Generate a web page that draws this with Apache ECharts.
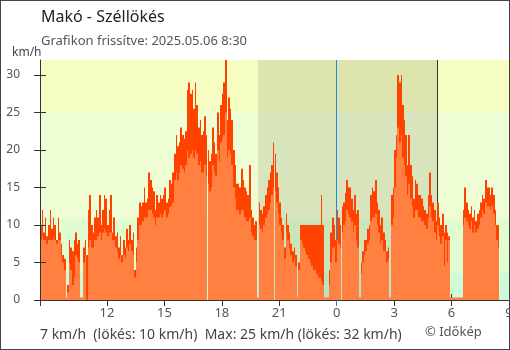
<!DOCTYPE html>
<html>
<head>
<meta charset="utf-8">
<script src="https://cdn.jsdelivr.net/npm/echarts@6/dist/echarts.min.js"></script>
<style>
  html, body { margin: 0; padding: 0; background: #fff; }
  #wrap { position: relative; width: 510px; height: 350px; }
  #chart { width: 510px; height: 350px; }
  #frame { position: absolute; left: 0; top: 0; width: 510px; height: 350px;
           box-sizing: border-box; border: 1px solid #444; pointer-events: none; }
</style>
</head>
<body>
<div id="wrap"><div id="chart"></div><div id="frame"></div></div>
<script>
// 5-minute wind readings, first one at 08:30 (hours counted from midnight of day 1)
const START_HOUR = 8.5;
const STEP_HOURS = 5 / 60;

// gusts, km/h (one row per hour)
const gust = [
  10, 12, 9, 11, 8.5, 10, 12, 9.5, 11, 10, 8, 11,
  9, 7.5, 6, 5.5, 0.3, 2, 8, 7, 6.5, 8, 9, 7.5,
  8, 0.3, 0.3, 7, 8, 6, 12, 14, 10, 9, 11, 12,
  11, 14, 10, 12, 14, 13.5, 10, 12, 14, 9, 11, 8.5,
  9, 7, 8.5, 6, 8, 7, 9.5, 8, 10, 8, 9, 4,
  7, 11, 13, 12.5, 13, 15, 13, 13.5, 17, 16, 15, 14.5,
  12, 14, 13, 14, 13.5, 14, 15, 13, 13.5, 16, 15.5, 17,
  19.5, 22, 20.5, 21, 23, 22, 21.5, 22.5, 28, 29, 27.5, 28,
  25.5, 29, 26, 23, 24, 22, 22.5, 24.5, 22, 20, 18.5, 19.5,
  23, 21, 19.5, 25, 22, 26, 27.5, 29, 32, 24, 27, 25.5,
  24, 20, 18, 15.5, 15.5, 15, 17.5, 16, 15, 14.5, 14, 18,
  12, 11, 10, 10.5, 0.3, 13, 12, 11.5, 12.5, 14, 15, 16,
  17, 18, 21, 19.5, 17, 15, 13, 11, 10, 7, 11.5, 10,
  9, 7.5, 6.5, 7, 6, 0.3, 5, 10, 10, 10, 10, 10,
  10, 10, 10, 10, 10, 10, 10, 10, 14, 10, 0.3, 0.3,
  0.3, 4, 9, 11, 10, 8, 12, 11, 10, 12.5, 13, 14.3,
  16, 15, 15, 13.5, 12, 14, 11.5, 12, 0.3, 5, 6.5, 8,
  8, 9.5, 10, 14, 15, 14.5, 16, 13, 12, 10, 11, 9,
  8, 6.5, 7, 0.3, 14, 15, 20, 22, 30, 29, 30, 26,
  24, 22, 18, 22, 18, 16.5, 13.5, 16, 15.5, 14, 14, 13.5,
  12.5, 12, 11.5, 14, 17, 14, 13, 12, 10.5, 13, 11, 10,
  11.5, 9, 10, 9, 8.5, 0.3, 0.3, 0.3, 0.3, 0.3, 0.3, 0.3,
  0.3, 12, 15, 13, 12, 11.5, 12.5, 11, 12, 10.5, 11.5, 12,
  13, 14, 13.5, 16, 15, 15, 14, 15, 14, 12, 10, 10
];

// mean wind speed, km/h
const speed = [
  8, 8.5, 8, 8, 7.5, 8, 8, 8, 8.5, 8, 7.5, 8,
  8, 6, 5, 4, 0.3, 1, 5, 4, 2, 3, 6, 5.5,
  5, 0.3, 0.3, 5, 6, 0, 7, 8, 7, 7, 8, 8,
  8.5, 9, 8, 9, 9.5, 9, 8.5, 9, 9, 8, 8, 7,
  6.5, 5.5, 6, 5, 6, 5.5, 7, 6.5, 7.5, 6.5, 6, 3,
  5, 8, 10, 10, 10.5, 11, 11, 11, 12, 12, 11.5, 11,
  10, 11, 11, 11.5, 11, 11.5, 12, 11, 11.5, 12.5, 12.5, 13,
  16, 17, 16, 17, 18, 17.5, 17, 18, 20, 19, 19.5, 20,
  19, 20, 19.5, 18, 18.5, 17, 17, 18, 16.5, 15.5, 14.5, 15,
  18, 17, 16.5, 20, 18.5, 21, 21.5, 22, 25, 19, 20, 19.5,
  18, 15, 13.5, 12, 12, 11.5, 12, 12, 11, 10.5, 10.5, 11,
  9, 8.5, 8, 8, 0.3, 10, 9.5, 9, 10, 11, 11.5, 12,
  13, 14, 15, 14.5, 13, 11.5, 10, 9, 8, 5.5, 9, 8,
  7, 6, 5, 5.5, 4.5, 0.3, 4, 8, 7.5, 7, 6.5, 6,
  5.5, 5, 4.5, 4, 4, 3.5, 3, 3, 2.5, 2, 0.3, 0.3,
  0.3, 2, 5, 7, 7, 5, 8, 7.5, 7, 9, 10, 10.5,
  12, 11.5, 11, 10.5, 9, 10, 8, 7, 0.3, 3.5, 5, 6,
  6.5, 7.5, 8, 10.5, 11, 11, 11.5, 10, 9, 7.5, 8, 6.5,
  6.5, 5, 5.5, 0.3, 10, 11, 15, 19, 23, 21, 22, 19,
  18, 16.5, 14, 15.5, 13.5, 12.5, 11, 12, 12, 11, 11, 10.5,
  10.5, 10, 9.5, 11, 12.5, 11, 10.5, 9, 8, 10, 8.5, 7.5,
  8.5, 4.5, 8, 5, 8, 0.3, 0.3, 0.3, 0.3, 0.3, 0.3, 0.3,
  0.3, 10, 11, 10.5, 10, 9.5, 10.5, 9, 10, 9, 9.5, 10,
  11, 12, 11.5, 13, 12.5, 12.5, 12, 12.5, 11.5, 10, 8, 7
];

// axis ranges and ticks
const X_MIN = 8.5, X_MAX = 33;
const hourTicks = [12, 15, 18, 21, 24, 27, 30, 33];
const Y_MAX = 32;
const yTicks = [0, 5, 10, 15, 20, 25, 30];

// wind-strength bands (km/h)
const bandEdges = [0, 3.6, 10.8, 25.2, 32];

// sun and day markers
const SUNSET = 19 + 53 / 60;
const SUNRISE = 24 + 5 + 15 / 60;
const MIDNIGHT = 24;

// texts
const TITLE = 'Makó - Széllökés';
const SUBTITLE = 'Grafikon frissítve: 2025.05.06 8:30';
const UNIT = 'km/h';
const SUMMARY = '7 km/h  (lökés: 10 km/h)  Max: 25 km/h (lökés: 32 km/h)';
const CREDIT = '© Időkép';

const GUST_COLOR = '#ff4200';
const SPEED_COLOR = '#ff8040';
const BAND_COLORS = ['#cdfbd8', '#e1fcd0', '#effdd4', '#f5fdc2'];
const FONT = '"Noto Sans", "Open Sans", sans-serif';

const barData = gust.map((g, i) => [START_HOUR + i * STEP_HOURS, speed[i], g]);

function renderBars(params, api) {
  const t = api.value(0);
  const cs = params.coordSys;
  const base = api.coord([t, 0]);
  const xa = Math.round(base[0]);
  const xb = Math.round(api.coord([t + STEP_HOURS, 0])[0]);
  const left = Math.max(xa, cs.x);
  const right = Math.min(xb, cs.x + cs.width);
  if (right <= left) return null;
  const gy = Math.max(api.coord([t, api.value(2)])[1], cs.y);
  const sy = Math.max(api.coord([t, api.value(1)])[1], cs.y);
  return {
    type: 'group',
    children: [
      { type: 'rect', shape: { x: left, y: gy, width: right - left, height: base[1] - gy },
        style: { fill: GUST_COLOR } },
      { type: 'rect', shape: { x: left, y: sy, width: right - left, height: base[1] - sy },
        style: { fill: SPEED_COLOR } }
    ]
  };
}

const bandAreas = bandEdges.slice(0, -1).map((lo, i) => [
  { yAxis: lo, itemStyle: { color: BAND_COLORS[i] } },
  { yAxis: bandEdges[i + 1] }
]);
bandAreas.push([
  { xAxis: SUNSET, itemStyle: { color: 'rgba(40,40,0,0.11)' } },
  { xAxis: SUNRISE }
]);

const axisGray = '#333';
const chart = echarts.init(document.getElementById('chart'), null, { renderer: 'canvas' });
chart.setOption({
  animation: false,
  backgroundColor: '#fff',
  textStyle: { fontFamily: FONT },
  grid: { left: 40, right: 1, top: 60, bottom: 50, containLabel: false, outerBoundsMode: 'none' },
  xAxis: [
    {
      type: 'value', min: X_MIN, max: X_MAX, z: 4,
      axisLine: { show: true, onZero: false, lineStyle: { color: axisGray, width: 1 } },
      axisTick: { show: true, inside: false, length: 6, customValues: [X_MIN, 12, 15, 18, 21, 27, 30, 33],
                  lineStyle: { color: axisGray } },
      axisLabel: { show: true, customValues: hourTicks, margin: 7, color: '#555', fontSize: 13,
                   fontFamily: FONT, formatter: v => String(v % 24) },
      splitLine: { show: false }
    },
    {
      type: 'value', min: X_MIN, max: X_MAX, z: 4, position: 'bottom',
      axisLine: { show: false },
      axisTick: { show: true, inside: false, length: 6, customValues: [MIDNIGHT],
                  lineStyle: { color: '#1e88e5' } },
      axisLabel: { show: false },
      splitLine: { show: false }
    },
    {
      type: 'value', min: X_MIN, max: X_MAX, z: 2, position: 'bottom',
      axisLine: { show: false },
      axisTick: { show: true, inside: true, length: 6, customValues: [12, 15, 18, 21, 27, 30],
                  lineStyle: { color: axisGray } },
      axisLabel: { show: false },
      splitLine: { show: false }
    }
  ],
  yAxis: [
    {
      type: 'value', min: 0, max: Y_MAX, z: 4,
      axisLine: { show: true, lineStyle: { color: axisGray, width: 1 } },
      axisTick: { show: true, inside: false, length: 6, customValues: yTicks,
                  lineStyle: { color: axisGray } },
      axisLabel: { show: true, customValues: yTicks, margin: 20, color: '#555', fontSize: 12,
                   fontFamily: FONT },
      splitLine: { show: false }
    },
    {
      type: 'value', min: 0, max: Y_MAX, z: 5, position: 'left',
      axisLine: { show: false },
      axisTick: { show: true, inside: true, length: 6, customValues: yTicks,
                  lineStyle: { color: axisGray } },
      axisLabel: { show: false },
      splitLine: { show: false }
    }
  ],
  series: [
    {
      type: 'line', data: [], z: 1, silent: true,
      markArea: { silent: true, z: 1, data: bandAreas },
      markLine: {
        silent: true, z: 1, symbol: ['none', 'none'], label: { show: false },
        emphasis: { disabled: true },
        data: [
          { xAxis: MIDNIGHT, lineStyle: { color: '#1e88e5', width: 1, type: 'solid', opacity: 1 } },
          { xAxis: SUNRISE, lineStyle: { color: '#333', width: 1, type: 'solid', opacity: 1 } }
        ]
      }
    },
    {
      type: 'custom', z: 3, silent: true,
      renderItem: renderBars,
      encode: { x: 0, y: [1, 2] },
      data: barData
    }
  ],
  graphic: [
    { type: 'text', left: 41, top: 9, silent: true,
      style: { text: TITLE, font: '16px ' + FONT, fill: '#222' } },
    { type: 'text', left: 41, top: 35, silent: true,
      style: { text: SUBTITLE, font: '13px ' + FONT, fill: '#555' } },
    { type: 'text', left: 12, top: 47, silent: true,
      style: { text: UNIT, font: '12px ' + FONT, fill: '#444' } },
    { type: 'text', left: 40, top: 328, silent: true,
      style: { text: SUMMARY, font: '14px ' + FONT, fill: '#444' } },
    { type: 'text', left: 425, top: 326, silent: true,
      style: { text: CREDIT, font: '13px ' + FONT, fill: '#555' } }
  ]
});
</script>
</body>
</html>
